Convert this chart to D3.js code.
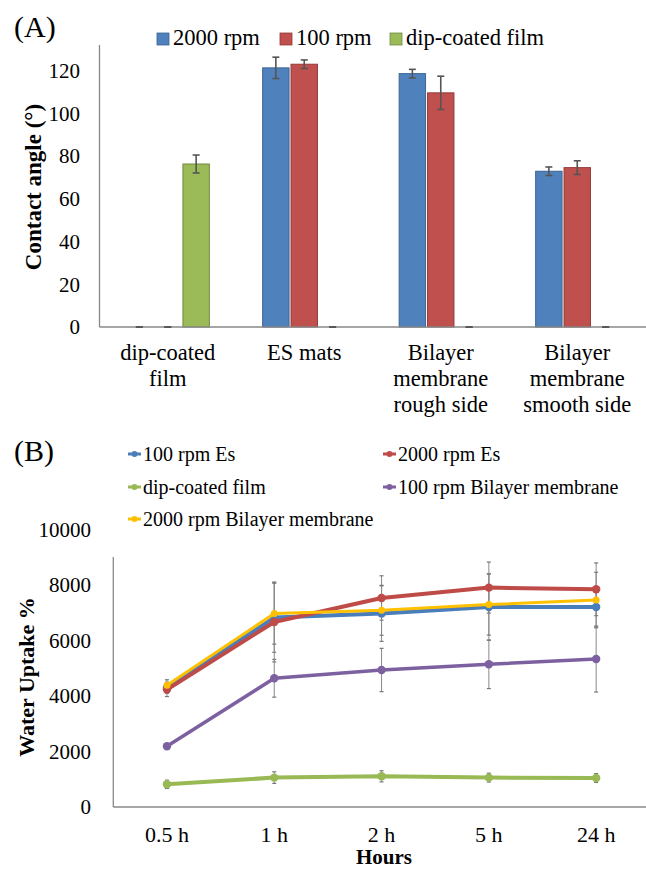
<!DOCTYPE html>
<html><head><meta charset="utf-8">
<script src="https://cdn.jsdelivr.net/npm/d3@7"></script>
<style>
html,body{margin:0;padding:0;background:#fff;}
svg{display:block;}
</style></head>
<body>
<svg id="c" width="646" height="870" font-family="Liberation Serif, Times New Roman, serif"></svg>
<script>
// ---------- Panel A data ----------
const catsA = ["dip-coated film", "ES mats", "Bilayer membrane rough side", "Bilayer membrane smooth side"];
const catLinesA = [["dip-coated", "film"], ["ES mats"], ["Bilayer", "membrane", "rough side"], ["Bilayer", "membrane", "smooth side"]];
const seriesA = ["2000 rpm", "100 rpm", "dip-coated film"];
const vals2000 = [0, 121.3, 118.6, 72.9];
const err2000 = [0, 5, 2, 2];
const vals100 = [0, 123, 109.6, 74.6];
const err100 = [0, 2, 7.8, 3.2];
const valsDip = [76.3, 0, 0, 0];
const errDip = [4.2, 0, 0, 0];
const yTicksA = [0, 20, 40, 60, 80, 100, 120];

// ---------- Panel B data ----------
const hours = ["0.5 h", "1 h", "2 h", "5 h", "24 h"];
const seriesB = ["100 rpm Es", "2000 rpm Es", "dip-coated film", "100 rpm Bilayer membrane", "2000 rpm Bilayer membrane"];
const es100 = [4300, 6825, 6969, 7207, 7207];
const es100Err = [200, 1250, 1000, 1200, 720];
const es2000 = [4230, 6667, 7532, 7906, 7845];
const es2000Err = [250, 1440, 800, 920, 950];
const dipB = [818, 1059, 1106, 1059, 1045];
const dipBErr = [150, 210, 200, 160, 160];
const bi100 = [2187, 4638, 4937, 5142, 5333];
const bi100Err = [100, 680, 780, 875, 1190];
const bi2000 = [4386, 6969, 7088, 7294, 7459];
const bi2000Err = [200, 1100, 900, 1100, 1000];
const yTicksB = [0, 2000, 4000, 6000, 8000, 10000];

const svg = d3.select("#c");

// ================= PANEL A =================
const colA = {"2000 rpm": "#4F81BD", "100 rpm": "#C0504D", "dip-coated film": "#9BBB59"};
const strokeA = {"2000 rpm": "#3B6596", "100 rpm": "#943A38", "dip-coated film": "#71893F"};
const valsA = {"2000 rpm": vals2000, "100 rpm": vals100, "dip-coated film": valsDip};
const errsA = {"2000 rpm": err2000, "100 rpm": err100, "dip-coated film": errDip};

const xA = d3.scaleBand().domain(catsA).range([99.5, 645.5]).padding(0);
const xA2 = d3.scaleBand().domain(seriesA).range([-41.6, 41.6]).paddingInner(0.07);
const yA = d3.scaleLinear().domain([0, 132]).range([327, 45]);

const gA = svg.append("g");
gA.selectAll(".yta").data(yTicksA).join("text")
  .attr("x", 80).attr("y", d => yA(d)).attr("dy", "0.35em")
  .attr("text-anchor", "end").attr("font-size", 21).attr("fill", "#000")
  .text(d => d);

const barData = [];
catsA.forEach((c, i) => seriesA.forEach(s => barData.push({c, s, v: valsA[s][i], e: errsA[s][i]})));
gA.selectAll(".bar").data(barData.filter(d => d.v > 0)).join("rect")
  .attr("x", d => xA(d.c) + xA.bandwidth() / 2 + xA2(d.s))
  .attr("width", xA2.bandwidth())
  .attr("y", d => yA(d.v))
  .attr("height", d => yA(0) - yA(d.v))
  .attr("fill", d => colA[d.s])
  .attr("stroke", d => strokeA[d.s]).attr("stroke-width", 1);

gA.append("line").attr("x1", 99.5).attr("x2", 99.5).attr("y1", yA(132)).attr("y2", yA(0)).attr("stroke", "#888").attr("stroke-width", 1.3);
gA.append("line").attr("x1", 99.5).attr("x2", 646).attr("y1", yA(0)).attr("y2", yA(0)).attr("stroke", "#888").attr("stroke-width", 1.3);

const eb = gA.selectAll(".eb").data(barData).join("g")
  .attr("transform", d => `translate(${xA(d.c) + xA.bandwidth() / 2 + xA2(d.s) + xA2.bandwidth() / 2},0)`);
eb.append("line").attr("y1", d => yA(d.v + d.e)).attr("y2", d => yA(d.v - d.e)).attr("stroke", "#555").attr("stroke-width", 1.6);
eb.append("line").attr("x1", -3.5).attr("x2", 3.5).attr("y1", d => yA(d.v + d.e)).attr("y2", d => yA(d.v + d.e)).attr("stroke", "#555").attr("stroke-width", 1.6);
eb.append("line").attr("x1", -3.5).attr("x2", 3.5).attr("y1", d => yA(Math.max(0, d.v - d.e))).attr("y2", d => yA(Math.max(0, d.v - d.e))).attr("stroke", "#555").attr("stroke-width", 1.6);

catsA.forEach((c, i) => {
  const t = gA.append("text").attr("text-anchor", "middle").attr("font-size", 22.5).attr("fill", "#000");
  catLinesA[i].forEach((ln, j) => {
    t.append("tspan").attr("x", xA(c) + xA.bandwidth() / 2).attr("y", 360 + j * 25.8).text(ln);
  });
});

gA.append("text").attr("transform", "translate(41,187) rotate(-90)")
  .attr("text-anchor", "middle").attr("font-size", 23).attr("font-weight", "bold").attr("fill", "#000")
  .text("Contact angle (°)");

svg.append("text").attr("x", 14).attr("y", 37).attr("font-size", 30).attr("fill", "#000").text("(A)");

const legA = [{s: "2000 rpm", x: 157}, {s: "100 rpm", x: 280}, {s: "dip-coated film", x: 390}];
legA.forEach(l => {
  svg.append("rect").attr("x", l.x).attr("y", 33).attr("width", 12).attr("height", 12)
    .attr("fill", colA[l.s]).attr("stroke", strokeA[l.s]).attr("stroke-width", 0.8);
  svg.append("text").attr("x", l.x + 16).attr("y", 45).attr("font-size", 22.5).attr("fill", "#000").text(l.s);
});

// ================= PANEL B =================
const colB = ["#4A7EBB", "#BE4B48", "#98B954", "#7D60A0", "#FFC000"];
const widthB = [4, 4, 4, 3.5, 3];
const valsB = [es100, es2000, dipB, bi100, bi2000];
const errsB = [es100Err, es2000Err, dipBErr, bi100Err, bi2000Err];

const xB = d3.scaleBand().domain(hours).range([113.3, 113.3 + 5 * 107.3]).padding(0);
const yB = d3.scaleLinear().domain([0, 10000]).range([807, 529.5]);
const cx = h => xB(h) + xB.bandwidth() / 2;

const gB = svg.append("g");
gB.selectAll(".ytb").data(yTicksB).join("text")
  .attr("x", 91).attr("y", d => yB(d)).attr("dy", "0.35em")
  .attr("text-anchor", "end").attr("font-size", 21).attr("fill", "#000")
  .text(d => d);

gB.append("line").attr("x1", 113.3).attr("x2", 113.3).attr("y1", 557).attr("y2", yB(0)).attr("stroke", "#888").attr("stroke-width", 1.3);
gB.append("line").attr("x1", 113.3).attr("x2", 646).attr("y1", yB(0)).attr("y2", yB(0)).attr("stroke", "#888").attr("stroke-width", 1.3);

gB.selectAll(".xtb").data(hours).join("text")
  .attr("x", d => cx(d)).attr("y", 842).attr("text-anchor", "middle")
  .attr("font-size", 22).attr("fill", "#000").text(d => d);

valsB.forEach((vals, si) => {
  const data = hours.map((h, i) => ({h, v: vals[i], e: errsB[si][i]}));
  const g = gB.append("g");
  const e = g.selectAll("g").data(data).join("g").attr("transform", d => `translate(${cx(d.h)},0)`);
  e.append("line").attr("y1", d => yB(d.v + d.e)).attr("y2", d => yB(d.v - d.e)).attr("stroke", "#8a8a8a").attr("stroke-width", 1);
  e.append("line").attr("x1", -2).attr("x2", 2).attr("y1", d => yB(d.v + d.e)).attr("y2", d => yB(d.v + d.e)).attr("stroke", "#777").attr("stroke-width", 1.2);
  e.append("line").attr("x1", -2).attr("x2", 2).attr("y1", d => yB(d.v - d.e)).attr("y2", d => yB(d.v - d.e)).attr("stroke", "#777").attr("stroke-width", 1.2);
});

const line = d3.line().x((d, i) => cx(hours[i])).y(d => yB(d));
valsB.forEach((vals, si) => {
  gB.append("path").datum(vals).attr("d", line).attr("fill", "none")
    .attr("stroke", colB[si]).attr("stroke-width", widthB[si]).attr("stroke-linejoin", "round");
  gB.selectAll(null).data(vals).join("circle")
    .attr("cx", (d, i) => cx(hours[i])).attr("cy", d => yB(d)).attr("r", si === 4 ? 3.5 : 4.2)
    .attr("fill", colB[si]);
});

svg.append("text").attr("x", 384).attr("y", 864).attr("text-anchor", "middle")
  .attr("font-size", 21).attr("font-weight", "bold").attr("fill", "#000").text("Hours");
svg.append("text").attr("transform", "translate(34,677) rotate(-90)")
  .attr("text-anchor", "middle").attr("font-size", 22).attr("font-weight", "bold").attr("fill", "#000")
  .text("Water Uptake %");

svg.append("text").attr("x", 14).attr("y", 461).attr("font-size", 30).attr("fill", "#000").text("(B)");

const legB = [{i: 0, x: 128, y: 454}, {i: 1, x: 383, y: 454}, {i: 2, x: 128, y: 487}, {i: 3, x: 383, y: 487}, {i: 4, x: 128, y: 519}];
legB.forEach(l => {
  svg.append("line").attr("x1", l.x).attr("x2", l.x + 13).attr("y1", l.y).attr("y2", l.y)
    .attr("stroke", colB[l.i]).attr("stroke-width", 3);
  svg.append("circle").attr("cx", l.x + 6.5).attr("cy", l.y).attr("r", 3).attr("fill", colB[l.i]);
  svg.append("text").attr("x", l.x + 15).attr("y", l.y + 6.5).attr("font-size", 20).attr("fill", "#000").text(seriesB[l.i]);
});
</script>
</body></html>
